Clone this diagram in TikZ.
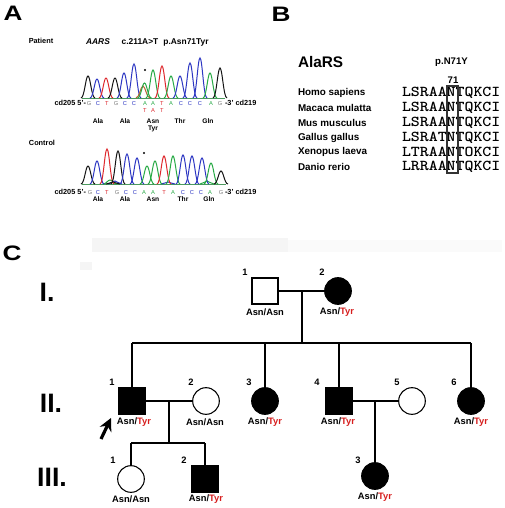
\documentclass[tikz,border=0pt]{standalone}
\usepackage{fontspec}
\setmainfont{Liberation Sans}
\newfontfamily\seqfont{lmmonolt10-bold.otf}
\usetikzlibrary{arrows.meta}
\newcommand{\myfs}[1]{\fontsize{#1}{#1}\selectfont}
\definecolor{cB}{RGB}{45,55,195}
\definecolor{cR}{RGB}{222,40,45}
\definecolor{cG}{RGB}{40,170,70}
\definecolor{cK}{RGB}{20,20,20}
\definecolor{cGy}{RGB}{125,125,125}
\definecolor{cMix}{RGB}{185,95,45}
\definecolor{tyr}{RGB}{215,30,30}
\begin{document}
\begin{tikzpicture}[x=0.75pt,y=-0.75pt,
  txt/.style={inner sep=0pt, outer sep=0pt},
  panel/.style={txt, font=\myfs{15.7}\bfseries},
  small/.style={txt, font=\myfs{5.5}\bfseries},
  baseltr/.style={txt, font=\myfs{4.3}},
  aa/.style={txt, font=\myfs{5}\bfseries},
  species/.style={txt, anchor=west, font=\myfs{7.4}\bfseries},
  seq/.style={txt, anchor=west, font=\myfs{11.3}\seqfont},
  gen/.style={txt, font=\myfs{20}\bfseries},
  num/.style={txt, font=\myfs{7}\bfseries},
  geno/.style={txt, font=\myfs{7}\bfseries},
  male/.style={draw, rectangle, minimum size=19.5pt, inner sep=0pt, line width=0.8pt},
  female/.style={draw, circle, minimum size=20pt, inner sep=0pt, line width=0.8pt},
  aff/.style={fill=black},
  link/.style={line width=0.8pt},
  peak/.style={line width=0.75pt}]
\useasboundingbox (0,0) rectangle (505,508);
\fill[white] (0,0) rectangle (505,508);
% faint scan artefacts
\fill[black!4] (92,238) rectangle (288,252);
\fill[black!2] (288,240) rectangle (502,252);
\fill[black!4] (80,262) rectangle (92,270);

% ---------------- Panel A ----------------
\node[panel] (lblA) at (13,13) {\scalebox{1.25}[1]{A}};
\node[small] (pat) at (41,41) {Patient};
\node[small, font=\myfs{6.3}\bfseries\itshape] (aars) at (98,42) {AARS};
\node[small, font=\myfs{6.3}\bfseries] (cdna) at (140,42) {c.211A>T};
\node[small, font=\myfs{6.3}\bfseries] (prot) at (186,42) {p.Asn71Tyr};

% patient trace
\draw[cG!60!gray, line width=0.5pt] (82,98) -- (225,98);
\foreach \c/\px/\h in {cK/88/22, cB/97/19, cR/106/20, cK/115/20, cB/124/25, cB/134/34, cMix/143/12, cG/144.5/15, cG/153/28, cR/162/32, cG/171/22, cB/180/22, cB/190/35, cB/200/40, cG/210/25, cK/220/30}
  \draw[peak, \c] (\px-7,98) .. controls (\px-3.6,98) and (\px-2.3,98-\h) .. (\px,98-\h) .. controls (\px+2.3,98-\h) and (\px+3.6,98) .. (\px+7,98);
\fill (145,70) circle (1.2);
\node[small, anchor=east] (p5) at (86,103) {cd205 5'-};
\node[small, anchor=west] (p3) at (225,103) {-3' cd219};
\foreach \c/\px/\l [count=\i] in {cGy/89/G, cB/98/C, cR/107/T, cGy/116/G, cB/125/C, cB/134/C, cG/145/A, cG/153/A, cR/162/T, cG/171/A, cB/181/C, cB/190/C, cB/200/C, cG/211/A, cGy/220/G}
  \node[baseltr, text=\c] (pb\i) at (\px,103.5) {\l};
\node[baseltr, text=cR] (pm1) at (145,111) {T};
\node[baseltr, text=cR] (pm2) at (153,111) {A};
\node[baseltr, text=cR] (pm3) at (162,111) {T};
\node[aa] (pa1) at (98,121) {Ala};
\node[aa] (pa2) at (125,121) {Ala};
\node[aa] (pa3) at (153,121) {Asn};
\node[aa] (pa4) at (180,121) {Thr};
\node[aa] (pa5) at (208,121) {Gln};
\node[aa] (pa6) at (153,129) {Tyr};

% control trace
\node[small] (ctl) at (42,143) {Control};
\draw[cG!60!gray, line width=0.5pt] (82,184) -- (226,184);
\foreach \c/\px/\h in {cG/110/4, cB/115/3, cK/113/2, cB/168/2, cG/207/3, cK/88/18, cB/97/23, cR/107/35, cK/118/33, cB/127/30, cB/137/26, cG/147/18, cG/155/23, cR/164/28, cG/173/28, cB/183/29, cB/192/28, cB/202/26, cG/211/21, cK/221/13}
  \draw[peak, \c] (\px-7,184) .. controls (\px-3.6,184) and (\px-2.3,184-\h) .. (\px,184-\h) .. controls (\px+2.3,184-\h) and (\px+3.6,184) .. (\px+7,184);
\fill (144,153) circle (1.2);
\node[small, anchor=east] (c5) at (86,192) {cd205 5'-};
\node[small, anchor=west] (c3) at (225,192) {-3' cd219};
\foreach \c/\px/\l [count=\i] in {cGy/90/G, cB/98/C, cR/107/T, cGy/117/G, cB/126/C, cB/135/C, cG/144/A, cG/153/A, cR/164/T, cG/173/A, cB/183/C, cB/192/C, cB/201/C, cG/210/A, cGy/221/G}
  \node[baseltr, text=\c] (cb\i) at (\px,192.5) {\l};
\node[aa] (ca1) at (98,199) {Ala};
\node[aa] (ca2) at (125,199) {Ala};
\node[aa] (ca3) at (153,199) {Asn};
\node[aa] (ca4) at (183,199) {Thr};
\node[aa] (ca5) at (209,199) {Gln};

% ---------------- Panel B ----------------
\node[panel] (lblB) at (281,14) {\scalebox{1.25}[1]{B}};
\node[txt, anchor=west, font=\myfs{11.5}\bfseries] (alars) at (298,62) {AlaRS};
\node[txt, font=\myfs{7.2}\bfseries] (mut) at (451.5,62) {p.N71Y};
\node[txt, font=\myfs{7.2}\bfseries] (pos) at (453,80) {71};
\foreach \sp/\sq/\yy [count=\i] in {Homo sapiens/LSRAANTQKCI/93, Macaca mulatta/LSRAANTQKCI/108, Mus musculus/LSRAANTQKCI/123, Gallus gallus/LSRATNTQKCI/138, Xenopus laeva/LTRAANTOKCI/152, Danio rerio/LRRAANTQKCI/167}{
  \node[species] (sp\i) at (298,\yy) {\sp};
  \node[seq] (sq\i) at (402,\yy) {\scalebox{1.13}[1]{\sq}};
}
\draw[line width=0.8pt, black!80] (447,86) rectangle (458,173);

% ---------------- Panel C ----------------
\node[panel] (lblC) at (12,253) {\scalebox{1.25}[1]{C}};
\node[gen] (gI) at (47,292) {I.};
\node[gen] (gII) at (51,403) {II.};
\node[gen] (gIII) at (52,477) {III.};

% generation I
\node[male] (I1) at (265,291) {};
\node[female, aff] (I2) at (338,291) {};
\node[num] at (245,272) {1};
\node[num] at (322,272) {2};
\node[geno] (gI1) at (265,312) {Asn/Asn};
\node[geno] (gI2) at (337,312) {Asn/\textcolor{tyr}{Tyr}};

% generation II
\node[male, aff] (II1) at (132,401) {};
\node[female] (II2) at (206,401) {};
\node[female, aff] (II3) at (265,401) {};
\node[male, aff] (II4) at (339,401) {};
\node[female] (II5) at (412,401) {};
\node[female, aff] (II6) at (471,401) {};
\node[num] at (112,382) {1};
\node[num] at (191,382) {2};
\node[num] at (249,382) {3};
\node[num] at (317,382) {4};
\node[num] at (397,382) {5};
\node[num] at (454,382) {6};
\node[geno] (gII1) at (134,422) {Asn/\textcolor{tyr}{Tyr}};
\node[geno] (gII2) at (205,422) {Asn/Asn};
\node[geno] (gII3) at (265,422) {Asn/\textcolor{tyr}{Tyr}};
\node[geno] (gII4) at (338,422) {Asn/\textcolor{tyr}{Tyr}};
\node[geno] (gII6) at (471,422) {Asn/\textcolor{tyr}{Tyr}};

% generation III
\node[female] (III1) at (131,479) {};
\node[male, aff] (III2) at (205,479) {};
\node[female, aff] (III3) at (375,476) {};
\node[num] at (113,460) {1};
\node[num] at (184,460) {2};
\node[num] at (358,460) {3};
\node[geno] (gIII1) at (131,499) {Asn/Asn};
\node[geno] (gIII2) at (206,499) {Asn/\textcolor{tyr}{Tyr}};
\node[geno] (gIII3) at (375,497) {Asn/\textcolor{tyr}{Tyr}};

% connectors
\coordinate (mI) at (302,291);
\coordinate (sI) at (302,343);
\draw[link] (I1.east) -- (I2.west);
\draw[link] (mI) -- (sI);
\draw[link] (II1.north |- sI) -- (II6.north |- sI);
\foreach \n in {II1, II3, II4, II6}
  \draw[link] (\n.north |- sI) -- (\n.north);

\coordinate (mII) at (169,401);
\coordinate (sII) at (169,443);
\draw[link] (II1.east) -- (II2.west);
\draw[link] (mII) -- (sII);
\draw[link] (III1.north |- sII) -- (III2.north |- sII);
\draw[link] (III1.north |- sII) -- (III1.north);
\draw[link] (III2.north |- sII) -- (III2.north);

\coordinate (mII2) at (375,401);
\draw[link] (II4.east) -- (II5.west);
\draw[link] (mII2) -- (III3.north);

% proband arrow
\coordinate (arT) at (101,439);
\coordinate (arH) at (111,418);
\draw[line width=2.4pt, -{Stealth[length=9.5pt, width=9.5pt]}] (arT) -- (arH);
\end{tikzpicture}
\end{document}
